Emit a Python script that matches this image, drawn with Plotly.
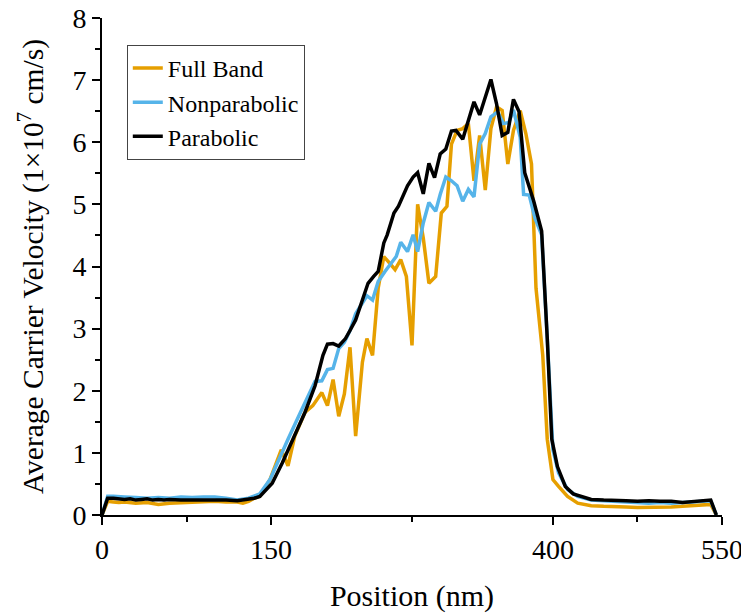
import plotly.graph_objects as go

# -----------------------------
# DATA
# -----------------------------

FULL_X = [0, 5, 10, 15, 20, 30, 40, 50, 60, 70, 80, 90, 100, 110, 120, 125, 130, 135,
          140, 149, 159, 165, 171, 180, 187, 195, 200, 205, 210, 215, 220, 225, 231, 235,
          240, 245, 250, 254, 260, 265, 270, 275, 280, 285, 290, 296, 301, 306, 310, 315,
          320, 325, 330, 335, 340, 345, 350, 355, 360, 365, 371, 376, 381, 385, 391, 395,
          400, 405, 413, 422, 434, 445, 455, 465, 475, 485, 495, 505, 515, 525, 535, 540, 545]
FULL_V = [0, 0.22, 0.21, 0.20, 0.21, 0.19, 0.20, 0.17, 0.19, 0.20, 0.21, 0.21, 0.22, 0.21, 0.21, 0.19, 0.22, 0.27,
          0.30, 0.57, 1.05, 0.79, 1.27, 1.65, 1.76, 1.97, 1.76, 2.18, 1.59, 1.95, 2.70, 1.27, 2.46, 2.84,
          2.57, 3.65, 4.16, 4.08, 3.95, 4.11, 3.84, 2.73, 5.00, 4.46, 3.73, 3.84, 4.86, 4.97, 5.97, 6.19,
          6.22, 6.30, 5.38, 6.11, 5.23, 6.22, 6.57, 6.51, 5.65, 6.19, 6.51, 6.14, 5.65, 3.65, 2.57, 1.22,
          0.57, 0.46, 0.30, 0.19, 0.15, 0.14, 0.14, 0.13, 0.12, 0.12, 0.12, 0.13, 0.14, 0.15, 0.16, 0.17, 0]

NONPARA_X = [0, 5, 10, 15, 20, 30, 40, 50, 60, 70, 80, 90, 100, 110, 115, 120, 130, 135,
             140, 149, 156, 165, 176, 184, 189, 195, 200, 205, 210, 215, 220, 225, 231, 235,
             240, 245, 251, 256, 261, 265, 271, 276, 280, 285, 290, 296, 300, 305, 310, 315,
             320, 325, 330, 335, 340, 345, 351, 356, 361, 365, 371, 374, 379, 384, 390, 395,
             400, 405, 413, 422, 434, 445, 455, 465, 475, 485, 495, 505, 515, 525, 535, 540, 545]
NONPARA_V = [0, 0.30, 0.30, 0.29, 0.29, 0.28, 0.27, 0.28, 0.27, 0.29, 0.28, 0.29, 0.29, 0.27, 0.25, 0.24, 0.27, 0.30,
             0.34, 0.57, 0.86, 1.22, 1.65, 1.97, 2.15, 2.16, 2.34, 2.36, 2.68, 2.78, 2.97, 3.24, 3.41, 3.53,
             3.46, 3.76, 3.92, 4.03, 4.16, 4.39, 4.24, 4.51, 4.24, 4.70, 5.03, 4.89, 5.16, 5.44, 5.38, 5.30,
             5.05, 5.24, 5.12, 5.97, 6.14, 6.41, 6.49, 6.30, 6.32, 6.52, 6.08, 5.16, 5.15, 4.78, 4.51, 2.84,
             1.05, 0.68, 0.41, 0.30, 0.24, 0.23, 0.22, 0.21, 0.20, 0.19, 0.20, 0.19, 0.20, 0.21, 0.22, 0.23, 0]

PARA_X = [0, 5, 10, 15, 20, 25, 30, 35, 40, 45, 50, 55, 60, 70, 80, 90, 100, 110, 120, 130, 135,
          140, 151, 160, 169, 180, 189, 196, 200, 205, 210, 216, 220, 225, 231, 236, 241, 245,
          250, 253, 259, 263, 271, 276, 280, 285, 290, 295, 300, 305, 310, 314, 320, 330, 335,
          340, 345, 350, 355, 360, 365, 370, 375, 383, 390, 395, 399, 404, 411, 418, 427,
          434, 445, 455, 465, 475, 485, 495, 505, 515, 525, 535, 540, 545]
PARA_V = [0, 0.27, 0.27, 0.26, 0.25, 0.26, 0.24, 0.25, 0.26, 0.24, 0.25, 0.24, 0.25, 0.24, 0.24, 0.24, 0.25, 0.24, 0.23, 0.25, 0.27,
          0.30, 0.51, 0.84, 1.22, 1.65, 2.08, 2.57, 2.75, 2.76, 2.72, 2.84, 2.97, 3.14, 3.46, 3.73, 3.84, 3.92,
          4.38, 4.51, 4.86, 4.97, 5.30, 5.44, 5.51, 5.17, 5.66, 5.43, 5.81, 5.89, 6.18, 6.19, 6.05, 6.65, 6.44,
          6.73, 7.01, 6.62, 6.11, 6.16, 6.69, 6.49, 5.51, 5.05, 4.57, 2.84, 1.22, 0.78, 0.46, 0.34, 0.29,
          0.25, 0.24, 0.24, 0.23, 0.22, 0.23, 0.22, 0.22, 0.20, 0.22, 0.23, 0.24, 0]

X_TICKS = [0, 150, 400, 550]
X_MINOR = [75, 275, 475]

SERIES = [
    ("Full Band", FULL_X, FULL_V, "#E69F00"),
    ("Nonparabolic", NONPARA_X, NONPARA_V, "#56B4E9"),
    ("Parabolic", PARA_X, PARA_V, "#000000"),
]

FONT = "Liberation Serif, Times New Roman, serif"

fig = go.Figure()

for name, xs, vs, color in SERIES:
    fig.add_trace(go.Scatter(
        x=xs, y=vs, mode="lines", name=name,
        line=dict(color=color, width=3.5)
    ))

axis_common = dict(
    showline=True, linecolor="black", linewidth=2,
    ticks="outside", ticklen=8, tickwidth=2, tickcolor="black",
    showgrid=False, zeroline=False, mirror=False,
    automargin=False, ticklabeloverflow="allow",
    tickfont=dict(family=FONT, size=28, color="black"),
)

fig.update_xaxes(
    range=[0, 550], tickmode="array", tickvals=X_TICKS,
    minor=dict(tickmode="array", tickvals=X_MINOR, ticks="outside",
               ticklen=5, tickwidth=2, tickcolor="black"),
    title=dict(text="Position (nm)", font=dict(family=FONT, size=30, color="black"), standoff=22),
    **axis_common
)

fig.update_yaxes(
    range=[0, 8], dtick=1,
    minor=dict(dtick=0.5, ticks="outside", ticklen=5, tickwidth=2, tickcolor="black"),
    title=dict(text="Average Carrier Velocity (1×10<sup>7</sup> cm/s)",
               font=dict(family=FONT, size=29.5, color="black"), standoff=20),
    **axis_common
)

fig.update_layout(
    width=741, height=613,
    margin=dict(l=102, r=19, t=18, b=98),
    plot_bgcolor="white", paper_bgcolor="white",
    legend=dict(
        x=0.04, y=0.946, xanchor="left", yanchor="top",
        bgcolor="white", bordercolor="#444", borderwidth=1,
        font=dict(family=FONT, size=24, color="black"),
        tracegroupgap=0,
    ),
)

# drop the default 8px page margin so the figure sits at the window corner
fig.write_html(
    "out.html",
    config={"displayModeBar": False},
    post_script="document.body.style.margin='0';",
)
